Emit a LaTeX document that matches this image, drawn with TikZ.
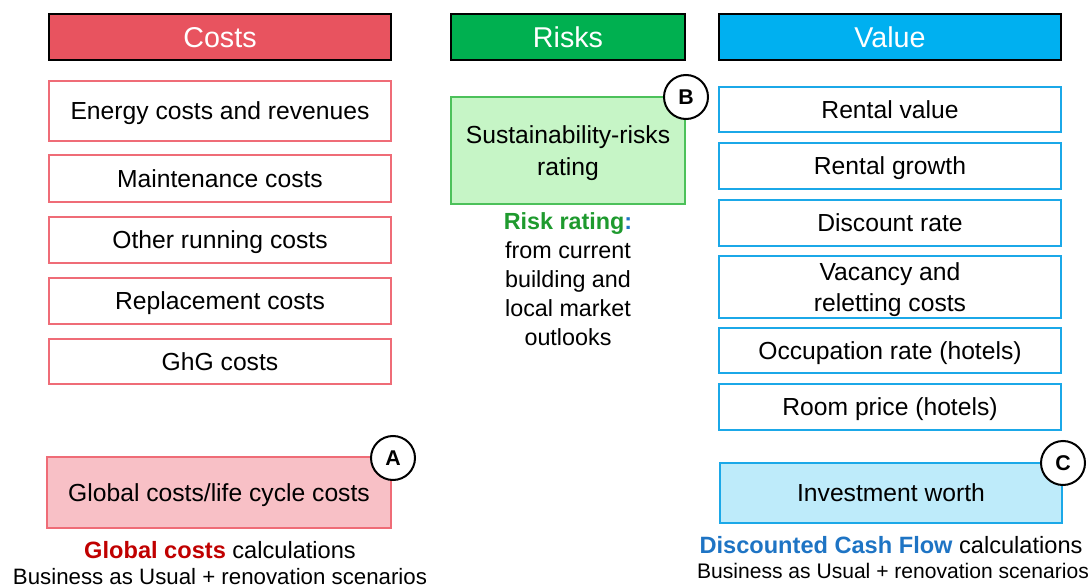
\documentclass[tikz,border=0pt]{standalone}
\usepackage{fontspec}
\setmainfont{Liberation Sans}
\usepackage{tikz}

\definecolor{costhead}{HTML}{E8535F}
\definecolor{costline}{HTML}{EF6C77}
\definecolor{costfill}{HTML}{F8C0C6}
\definecolor{costtext}{HTML}{C00000}
\definecolor{riskhead}{HTML}{00B050}
\definecolor{riskline}{HTML}{4CC15A}
\definecolor{riskfill}{HTML}{C6F5C6}
\definecolor{risktext}{HTML}{1E9A2E}
\definecolor{valuehead}{HTML}{00B0F0}
\definecolor{valueline}{HTML}{1BA8E8}
\definecolor{valuefill}{HTML}{BEEBFA}
\definecolor{valuetext}{HTML}{1E74C4}

\begin{document}
\begin{tikzpicture}[x=0.75pt,y=-0.75pt,
    header/.style={draw=black,thick,minimum height=34.5pt,inner sep=0pt,text depth=0pt,
                   text=white,font=\fontsize{21.5}{24}\selectfont},
    item/.style={draw,thick,fill=white,minimum width=256.5pt,minimum height=34.5pt,
                 inner sep=0pt,text depth=0pt,align=center,font=\fontsize{18.5}{23.5}\selectfont},
    costitem/.style={item,draw=costline},
    valueitem/.style={item,draw=valueline},
    tag/.style={draw=black,line width=1.5pt,circle,fill=white,minimum size=33pt,
                inner sep=0pt,font=\fontsize{16}{18}\selectfont\bfseries},
    note/.style={align=center,inner sep=0pt}]
  \useasboundingbox (0,0) rectangle (1089,588);

  % headers
  \node[header,fill=costhead,minimum width=256.5pt](costs) at (220,37) {Costs};
  \node[header,fill=riskhead,minimum width=175.5pt](risks) at (568,37) {Risks};
  \node[header,fill=valuehead,minimum width=256.5pt](value) at (890,37) {Value};

  % costs column
  \node[costitem,minimum height=45pt](energy) at (220,111) {Energy costs and revenues};
  \node[costitem,minimum height=35.25pt](maint) at (220,178.5) {Maintenance costs};
  \node[costitem](running) at (220,240) {Other running costs};
  \node[costitem](replace) at (220,301) {Replacement costs};
  \node[costitem,minimum height=33.75pt](ghg) at (220,361.5) {GhG costs};
  \node[costitem,fill=costfill,minimum width=258pt,minimum height=53.25pt](global) at (219,492.5) {Global costs/life cycle costs};
  \node[tag](A) at (393,458) {A};
  \node[note,font=\fontsize{17.7}{20}\selectfont](globalnote) at (220,550) {\textcolor{costtext}{\bfseries Global costs} calculations};
  \node[note,font=\fontsize{16.7}{19}\selectfont](globalscen) at (220,577) {Business as Usual + renovation scenarios};

  % risks column
  \node[item,draw=riskline,fill=riskfill,minimum width=175.5pt,minimum height=80.25pt](rating) at (568,150.5) {Sustainability-risks\\rating};
  \node[tag](B) at (686,97) {B};
  \node[note,font=\fontsize{17.5}{21.75}\selectfont](risknote) at (568,279.5)
    {\textcolor{risktext}{\bfseries Risk rating}\textcolor{valuetext}{\bfseries :}\\from current\\building and\\local market\\outlooks};

  % value column
  \node[valueitem,minimum height=33.75pt](rental) at (890,109.5) {Rental value};
  \node[valueitem](growth) at (890,166) {Rental growth};
  \node[valueitem](discount) at (890,223) {Discount rate};
  \node[valueitem,minimum height=46.5pt](vacancy) at (890,287) {Vacancy and\\reletting costs};
  \node[valueitem,minimum height=33.75pt](occupation) at (890,350.5) {Occupation rate (hotels)};
  \node[valueitem](room) at (890,407) {Room price (hotels)};
  \node[valueitem,fill=valuefill,minimum height=45pt](worth) at (891,493) {Investment worth};
  \node[tag](C) at (1063,463) {C};
  \node[note,font=\fontsize{17.7}{20}\selectfont](dcfnote) at (891,545) {\textcolor{valuetext}{\bfseries Discounted Cash Flow} calculations};
  \node[note,font=\fontsize{15.8}{18}\selectfont](dcfscen) at (893,571) {Business as Usual + renovation scenarios};
\end{tikzpicture}
\end{document}
